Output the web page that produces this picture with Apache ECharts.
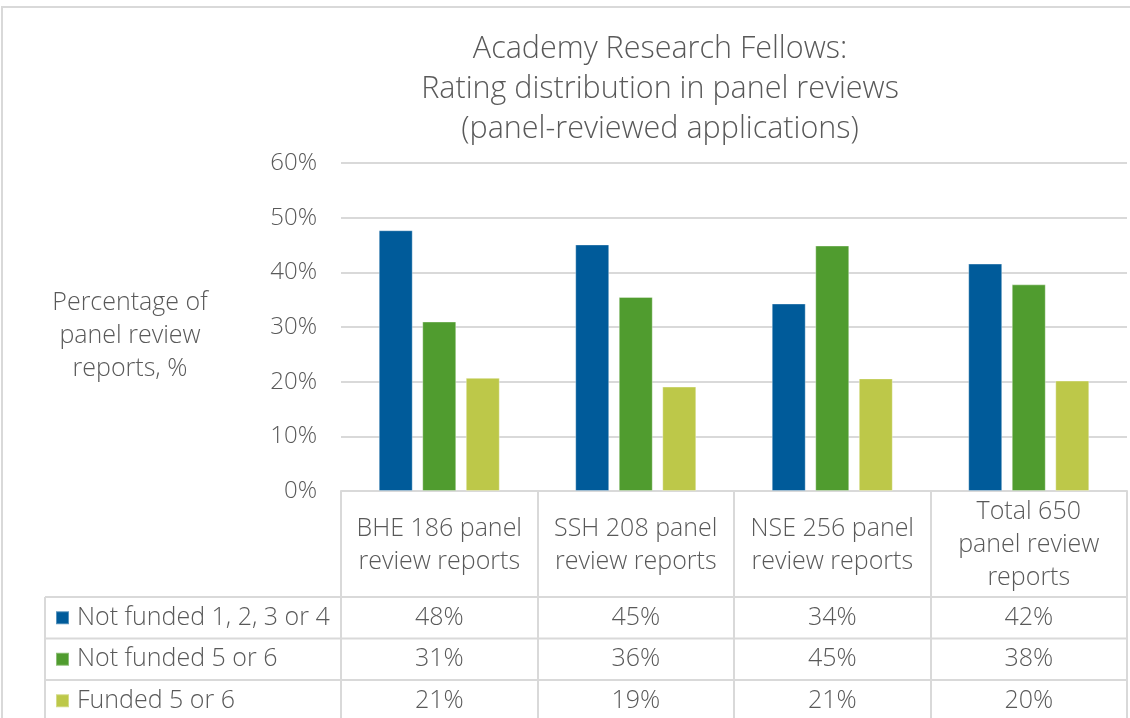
<!DOCTYPE html>
<html><head><meta charset="utf-8">
<script src="https://cdn.jsdelivr.net/npm/echarts@6/dist/echarts.min.js"></script>
<style>html,body{margin:0;padding:0;background:#fff}#c{width:1130px;height:718px}</style>
</head><body><div id="c"></div>
<script>
const titleText = 'Academy Research Fellows:\nRating distribution in panel reviews\n(panel-reviewed applications)';
const yAxisTitle = 'Percentage of\npanel review\nreports, %';
const categories = ['BHE 186 panel\nreview reports', 'SSH 208 panel\nreview reports', 'NSE 256 panel\nreview reports', 'Total 650\npanel review\nreports'];
const seriesNames = ['Not funded 1, 2, 3 or 4', 'Not funded 5 or 6', 'Funded 5 or 6'];
const notFunded1234 = [47.7, 45.1, 34.3, 41.6];
const notFunded56 = [31.0, 35.5, 44.9, 37.8];
const funded56 = [20.7, 19.1, 20.6, 20.2];
const tableNotFunded1234 = ['48%', '45%', '34%', '42%'];
const tableNotFunded56 = ['31%', '36%', '45%', '38%'];
const tableFunded56 = ['21%', '19%', '21%', '20%'];
const yTicks = { min: 0, max: 60, interval: 10 };

const FONT = 'Open Sans';
const W = 300;
const FS = 25;
const TXT = '#595959';
const LINE = '#d9d9d9';
const colors = ['#005B9A', '#509C2F', '#BDC849'];
const seriesData = [notFunded1234, notFunded56, funded56];
const tableRows = [tableNotFunded1234, tableNotFunded56, tableFunded56];
const rowTops = [597, 638.5, 680, 721.5];

const chart = echarts.init(document.getElementById('c'));
const option = {
  animation: false,
  color: colors,
  textStyle: { fontFamily: FONT },
  title: {
    text: titleText, left: 655, top: 24, textAlign: 'center',
    textStyle: { fontFamily: FONT, fontSize: 30.5, fontWeight: W, color: TXT, lineHeight: 40 }
  },
  legend: seriesNames.map((n, i) => ({
    orient: 'vertical', left: 55, top: rowTops[i], padding: 0,
    itemWidth: 13, itemHeight: 13, icon: 'rect', selectedMode: false,
    data: [n],
    formatter: '{a|{name}}',
    textStyle: { fontFamily: FONT, fontSize: FS, fontWeight: W, color: TXT, lineHeight: 41.5,
      rich: { a: { fontFamily: FONT, fontSize: FS, fontWeight: W, color: TXT, lineHeight: 41.5, padding: [0, 0, 0, 3] } } }
  })),
  grid: { left: 341, right: 3, top: 163, bottom: 227, containLabel: false },
  xAxis: {
    type: 'category', data: categories,
    axisLine: { show: true, lineStyle: { color: LINE, width: 2 } },
    axisTick: { show: true, length: 227, lineStyle: { color: LINE, width: 2 } },
    axisLabel: { fontFamily: FONT, fontSize: FS, fontWeight: W, color: TXT, lineHeight: 33, margin: 54, verticalAlign: 'middle', align: 'center', interval: 0 }
  },
  yAxis: {
    type: 'value', min: yTicks.min, max: yTicks.max, interval: yTicks.interval,
    axisLine: { show: false }, axisTick: { show: false },
    splitLine: { lineStyle: { color: LINE, width: 2 } },
    axisLabel: { formatter: '{value}%', fontFamily: FONT, fontSize: 24, fontWeight: W, color: TXT, margin: 24 }
  },
  series: seriesNames.map((n, i) => ({
    name: n, type: 'bar', data: seriesData[i], barWidth: 34, barGap: '28%',
    itemStyle: { color: colors[i], borderColor: 'rgba(255,255,255,0.35)', borderWidth: 1 }
  }))
};
chart.setOption(option);

const gridRight = 1127;
const graphic = [];
graphic.push({ type: 'rect', shape: { x: 2, y: 7, width: 1200, height: 800 }, style: { fill: 'none', stroke: LINE, lineWidth: 2 }, silent: true });
rowTops.slice(0, 3).forEach(y => {
  graphic.push({ type: 'line', shape: { x1: 45, y1: y, x2: gridRight, y2: y }, style: { stroke: LINE, lineWidth: 2 }, silent: true });
});
graphic.push({ type: 'line', shape: { x1: 45, y1: 597, x2: 45, y2: 718 }, style: { stroke: LINE, lineWidth: 2 }, silent: true });
tableRows.forEach((row, r) => {
  row.forEach((v, c) => {
    const x = chart.convertToPixel({ xAxisIndex: 0 }, c);
    graphic.push({ type: 'text', x: x, y: (rowTops[r] + rowTops[r + 1]) / 2, silent: true,
      style: { text: v, fontFamily: FONT, fontSize: FS, fontWeight: W, fill: TXT, align: 'center', verticalAlign: 'middle' } });
  });
});
graphic.push({ type: 'text', x: 130, y: 336, silent: true,
  style: { text: yAxisTitle, fontFamily: FONT, fontSize: FS, fontWeight: W, fill: TXT, align: 'center', verticalAlign: 'middle', lineHeight: 33 } });
chart.setOption({ graphic: graphic });
</script></body></html>
